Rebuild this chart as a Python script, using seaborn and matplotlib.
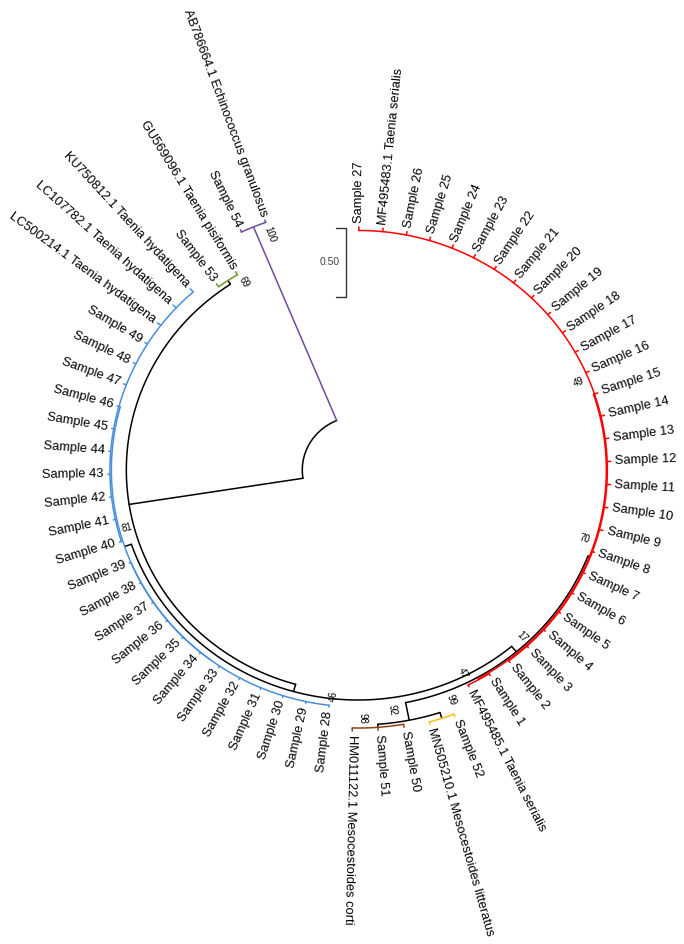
import matplotlib
matplotlib.use("Agg")

import numpy as np
import pandas as pd
import matplotlib.pyplot as plt
import seaborn as sns


sns.set_theme(style="white")
plt.rcParams["font.family"] = ["Liberation Sans", "DejaVu Sans"]

# ---- data: taxa in drawing order (clockwise from the top) ----
TIPS = [
    "Sample 27", "MF495483.1 Taenia serialis",
    "Sample 26", "Sample 25", "Sample 24", "Sample 23", "Sample 22", "Sample 21",
    "Sample 20", "Sample 19", "Sample 18", "Sample 17", "Sample 16", "Sample 15",
    "Sample 14", "Sample 13", "Sample 12", "Sample 11", "Sample 10", "Sample 9",
    "Sample 8", "Sample 7", "Sample 6", "Sample 5", "Sample 4", "Sample 3",
    "Sample 2", "Sample 1", "MF495485.1 Taenia serialis",
    "Sample 52", "MN505210.1 Mesocestoides litteratus",
    "Sample 50", "Sample 51", "HM011122.1 Mesocestoides corti",
    "Sample 28", "Sample 29", "Sample 30", "Sample 31", "Sample 32", "Sample 33",
    "Sample 34", "Sample 35", "Sample 36", "Sample 37", "Sample 38", "Sample 39",
    "Sample 40", "Sample 41", "Sample 42", "Sample 43", "Sample 44", "Sample 45",
    "Sample 46", "Sample 47", "Sample 48", "Sample 49",
    "LC500214.1 Taenia hydatigena", "LC107782.1 Taenia hydatigena",
    "KU750812.1 Taenia hydatigena",
    "Sample 53", "GU569096.1 Taenia pisiformis",
    "Sample 54", "AB786664.1 Echinococcus granulosus",
]

TIP_PARENT = (["UPPER"] * 27 + ["LOWER"] * 2 + ["YELLOW"] * 2 + ["BROWN"] * 3
              + ["BLOW"] * 12 + ["BUP"] * 13 + ["G"] * 2 + ["P"] * 2)

TIP_BRANCH = [
    0.025, 0.025, 0.025, 0.025, 0.025, 0.025, 0.025, 0.025, 0.025, 0.025,
    0.025, 0.025, 0.025, 0.025, 0.025, 0.025, 0.025, 0.025, 0.025, 0.025,
    0.015, 0.015, 0.015, 0.015, 0.015, 0.015, 0.015,
    0.015, 0.015,
    0.018, 0.018,
    0.022, 0.022, 0.022,
    0.013, 0.013, 0.013, 0.013, 0.013, 0.013, 0.013, 0.013, 0.013, 0.013, 0.013, 0.013,
    0.014, 0.014, 0.014, 0.014, 0.014, 0.014, 0.014, 0.020, 0.020, 0.020,
    0.030, 0.030, 0.030,
    0.026, 0.026,
    0.018, 0.018,
]

# internal nodes (parents listed before children)
NODES = ["root", "P", "B", "G", "C", "BLUE", "BLOW", "BUP",
         "N17", "RED", "UPPER", "LOWER", "N92", "YELLOW", "BROWN"]
NODE_PARENT = [None, "root", "root", "B", "B", "C", "BLUE", "BLUE",
               "C", "N17", "RED", "RED", "N17", "N92", "N92"]
NODE_BRANCH = [0.0, 1.518, 1.225, 0.032, 0.054, 0.050, 0.000, 0.010,
               0.051, 0.011, 0.007, 0.007, 0.130, 0.044, 0.022]
NODE_SUPPORT = ["", "100", "", "69", "46", "81", "", "",
                "17", "70", "49", "47", "92", "99", "98"]

SCALE_VALUE = 0.50

# ---- style ----
CLADE_COLOURS = {
    "P": "#6f4c9b", "G": "#6a9a2a", "BLUE": "#4a8fdc", "RED": "#ff0000",
    "YELLOW": "#f5c211", "BROWN": "#8b4513",
}
BACKBONE = "#000000"
CX, CY, SX = 358.0, 470.0, 1.041      # centre (px) and horizontal stretch
R0, UNIT = 53.5, 138.0                # root radius and px per substitution unit
START, STEP = 0.2, 340.1 / 62         # tip angles (deg, clockwise from top)
LABEL_NUDGE = {"100": (2.6, -13), "69": (3.1, -9), "81": (4.2, -8),
               "46": (-9.6, -2), "17": (-3.4, -7.5), "47": (2.6, -13),
               "70": (-3.7, -10), "49": (-4.1, -10), "92": (3.4, -13),
               "99": (-3.4, -14), "98": (3.2, -10)}


def xy(theta, r):
    t = np.radians(theta)
    return CX + SX * r * np.sin(t), CY - r * np.cos(t)


def radial_rotation(theta):
    t = np.radians(theta)
    rot = np.degrees(np.arctan2(np.cos(t), SX * np.sin(t)))
    left = theta > 184
    if left:
        rot += 180
    rot = (rot + 180) % 360 - 180
    return rot, left


# ---- layout ----
children = {n: [] for n in NODES}
for n, p in zip(NODES, NODE_PARENT):
    if p is not None:
        children[p].append(n)
for i, p in enumerate(TIP_PARENT):
    children[p].append(i)

depth = {}
for n, p, b in zip(NODES, NODE_PARENT, NODE_BRANCH):
    depth[n] = 0.0 if p is None else depth[p] + b
for i, p in enumerate(TIP_PARENT):
    depth[i] = depth[p] + TIP_BRANCH[i]

angle = {i: START + STEP * i for i in range(len(TIPS))}


def node_angle(n):
    if n not in angle:
        a = [node_angle(c) for c in children[n]]
        angle[n] = (min(a) + max(a)) / 2
    return angle[n]


node_angle("root")

colour_key = {}
for n, p in zip(NODES, NODE_PARENT):
    if n in CLADE_COLOURS:
        colour_key[n] = n
    elif p is not None and colour_key[p] != "backbone":
        colour_key[n] = colour_key[p]
    else:
        colour_key[n] = "backbone"
for i, p in enumerate(TIP_PARENT):
    colour_key[i] = colour_key[p]

radius = {k: R0 + UNIT * d for k, d in depth.items()}

rows = []
seg = 0
for n in NODES:
    ch = children[n]
    a = [angle[c] for c in ch]
    th = np.linspace(min(a), max(a), 120)
    x, y = xy(th, radius[n])
    rows += [(seg, x[k], y[k], colour_key[n]) for k in range(len(th))]
    seg += 1
    for c in ch:
        key = colour_key[c] if n == "root" else colour_key[n]
        x, y = xy(np.array([angle[c], angle[c]]), np.array([radius[n], radius[c]]))
        rows += [(seg, x[0], y[0], key), (seg, x[1], y[1], key)]
        seg += 1

df = pd.DataFrame(rows, columns=["seg", "x", "y", "clade"])
palette = dict(CLADE_COLOURS, backbone=BACKBONE)

# ---- draw ----
fig = plt.figure(figsize=(6.84, 9.44), dpi=100)
ax = fig.add_axes([0, 0, 1, 1])
sns.lineplot(data=df, x="x", y="y", hue="clade", units="seg", estimator=None,
             sort=False, palette=palette, legend=False, linewidth=1.1, ax=ax)

for i, name in enumerate(TIPS):
    th = angle[i]
    rot, left = radial_rotation(th)
    x, y = xy(th, radius[i] + 4)
    ax.text(x, y, name, rotation=rot, rotation_mode="anchor",
            ha="right" if left else "left", va="center",
            fontsize=9.3, color="black")

for n, s in zip(NODES, NODE_SUPPORT):
    if not s:
        continue
    d_th, d_r = LABEL_NUDGE.get(s, (0, -10))
    th = angle[n] + d_th
    rot, _ = radial_rotation(th)
    x, y = xy(th, radius[n] + d_r)
    ax.text(x, y, s, rotation=rot, rotation_mode="anchor", ha="center",
            va="center", fontsize=7, color="black")

# scale bar
bar_x, bar_top = 345.5, 227.5
bar_len = SCALE_VALUE * UNIT
ax.plot([bar_x - 10, bar_x, bar_x, bar_x - 10],
        [bar_top, bar_top, bar_top + bar_len, bar_top + bar_len],
        color="#333333", lw=1.0)
ax.text(bar_x - 16, bar_top + bar_len / 2, f"{SCALE_VALUE:.2f}", ha="center",
        va="center", fontsize=7.5, color="#444444")

ax.set_xlim(0, 684)
ax.set_ylim(944, 0)
ax.axis("off")

fig.savefig("out.png", dpi=100)
plt.close(fig)
